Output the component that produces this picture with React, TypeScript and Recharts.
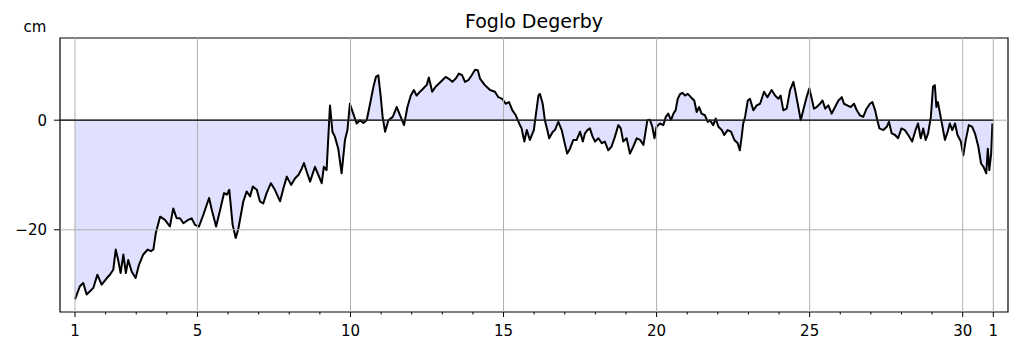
import React from "react";
import { ComposedChart, Area, XAxis, YAxis, ReferenceLine, ReferenceArea } from "recharts";

const TITLE = "Foglo Degerby";
const UNIT = "cm";

// x axis: day of month (31 = 1st of next month)
const dayTicks = Array.from({ length: 31 }, (_, i) => i + 1);
const majorDays = [1, 5, 10, 15, 20, 25, 30, 31];
const majorLabels = ["1", "5", "10", "15", "20", "25", "30", "1"];
const yTicks = [-20, 0];

const days = [
  1.0, 1.16, 1.27, 1.38, 1.49, 1.6, 1.73, 1.87, 2.04, 2.14, 2.25, 2.33, 2.41, 2.49, 2.58, 2.66, 2.74, 2.85, 2.98,
  3.09, 3.23, 3.38, 3.48, 3.56, 3.64, 3.78, 3.94, 4.1, 4.21, 4.32, 4.43, 4.54, 4.7, 4.81, 4.92, 5.05, 5.19, 5.38,
  5.47, 5.61, 5.74, 5.87, 5.96, 6.04, 6.15, 6.25, 6.33, 6.5, 6.61, 6.72, 6.81, 6.94, 7.04, 7.15, 7.26, 7.4, 7.53,
  7.7, 7.81, 7.92, 8.06, 8.19, 8.3, 8.41, 8.48, 8.57, 8.68, 8.84, 8.95, 9.06, 9.13, 9.22, 9.33, 9.41, 9.49, 9.6,
  9.71, 9.82, 9.9, 9.98, 10.09, 10.2, 10.31, 10.42, 10.53, 10.64, 10.75, 10.83, 10.91, 10.99, 11.05, 11.13, 11.24,
  11.38, 11.51, 11.62, 11.75, 11.86, 11.97, 12.07, 12.16, 12.27, 12.33, 12.43, 12.49, 12.56, 12.67, 12.78, 12.89,
  13.0, 13.11, 13.2, 13.33, 13.44, 13.54, 13.65, 13.74, 13.85, 13.96, 14.07, 14.16, 14.23, 14.39, 14.56, 14.72,
  14.83, 14.96, 15.07, 15.18, 15.29, 15.4, 15.51, 15.59, 15.68, 15.76, 15.86, 15.99, 16.06, 16.14, 16.19, 16.28,
  16.35, 16.43, 16.49, 16.61, 16.68, 16.79, 16.9, 17.01, 17.08, 17.17, 17.28, 17.39, 17.5, 17.59, 17.66, 17.74,
  17.82, 17.91, 17.99, 18.1, 18.21, 18.31, 18.42, 18.53, 18.64, 18.75, 18.83, 18.91, 19.02, 19.13, 19.24, 19.35,
  19.46, 19.57, 19.7, 19.78, 19.86, 19.93, 20.0, 20.11, 20.22, 20.3, 20.38, 20.47, 20.55, 20.62, 20.69, 20.76,
  20.84, 20.93, 21.02, 21.12, 21.23, 21.31, 21.39, 21.47, 21.58, 21.67, 21.74, 21.85, 21.93, 22.02, 22.13, 22.21,
  22.32, 22.43, 22.54, 22.65, 22.72, 22.78, 22.83, 22.89, 22.98, 23.05, 23.16, 23.27, 23.38, 23.51, 23.62, 23.76,
  23.87, 23.98, 24.05, 24.14, 24.25, 24.36, 24.47, 24.55, 24.63, 24.71, 24.79, 24.9, 24.99, 25.07, 25.14, 25.23,
  25.34, 25.42, 25.51, 25.61, 25.72, 25.83, 25.94, 26.05, 26.12, 26.23, 26.34, 26.45, 26.54, 26.64, 26.75, 26.86,
  26.97, 27.05, 27.14, 27.21, 27.28, 27.41, 27.52, 27.59, 27.68, 27.79, 27.89, 28.0, 28.11, 28.22, 28.35, 28.46,
  28.54, 28.63, 28.71, 28.79, 28.87, 28.96, 29.03, 29.09, 29.14, 29.19, 29.26, 29.33, 29.42, 29.51, 29.58, 29.66,
  29.75, 29.83, 29.94, 30.02, 30.1, 30.2, 30.31, 30.4, 30.51, 30.6, 30.68, 30.77, 30.82, 30.87, 30.93, 30.97,
];

const levels = [
  -32.7, -30.3, -29.7, -31.8, -31.2, -30.6, -28.2, -30.0, -28.8, -28.2, -27.3, -23.6, -25.5, -27.9, -24.5, -27.9,
  -25.5, -27.6, -28.8, -26.4, -24.5, -23.6, -23.9, -23.6, -20.6, -17.6, -18.2, -19.4, -16.1, -17.9, -17.9, -18.8,
  -18.2, -17.9, -19.1, -19.4, -17.3, -14.2, -16.4, -19.4, -16.4, -13.3, -13.6, -12.7, -19.1, -21.5, -20.0, -14.8,
  -13.0, -13.9, -12.1, -12.7, -14.8, -15.2, -13.3, -11.5, -12.7, -14.8, -12.4, -10.3, -11.8, -10.6, -10.0, -8.8,
  -7.8, -9.4, -11.2, -8.5, -10.0, -11.5, -8.5, -9.1, 2.7, -2.1, -3.0, -5.2, -9.7, -3.6, -1.8, 3.0, 1.2, -0.6, 0,
  -0.5, 0, 3.0, 6.1, 7.9, 8.2, 4.2, 0.6, -2.1, 0, 0.6, 2.4, 0.9, -0.9, 2.4, 4.5, 5.5, 4.5, 5.2, 5.5, 6.1, 6.4, 7.8,
  5.2, 6.1, 6.7, 7.3, 7.9, 7.6, 7.0, 7.6, 8.5, 8.2, 7.0, 7.3, 8.2, 9.2, 9.1, 7.6, 6.4, 5.5, 5.2, 4.2, 3.9, 3.0, 3.3,
  1.8, 0.9, -0.6, -1.5, -3.9, -1.8, -3.6, -1.8, 1.2, 4.5, 4.8, 3.0, 0, -1.8, -3.3, -2.1, -1.8, -0.3, -1.8, -4.5,
  -6.1, -5.2, -3.6, -3.6, -2.1, -3.9, -2.4, -1.8, -1.5, -3.0, -3.9, -3.3, -4.2, -3.9, -5.5, -4.8, -3.0, -0.9, -1.5,
  -3.9, -3.3, -6.1, -4.8, -3.3, -3.6, -4.5, 0, 0.1, -1.2, -3.3, -1.2, -0.6, -0.9, 0.6, 1.2, 0, 1.2, 1.8, 3.9, 4.7,
  5.0, 4.5, 4.8, 4.2, 3.6, 1.5, 2.4, 1.2, 0.9, -0.3, 0, -0.9, 0.3, -1.2, -1.8, -2.7, -1.8, -2.1, -3.6, -4.2, -5.5,
  -3.0, -0.6, 0.6, 3.6, 3.9, 1.8, 2.7, 3.0, 5.2, 4.2, 5.5, 4.5, 3.9, 4.5, 1.8, 2.1, 5.5, 7.0, 4.8, 2.4, 0, 1.8, 4.2,
  5.8, 3.9, 2.1, 2.4, 3.0, 3.6, 2.1, 2.7, 1.2, 2.4, 3.6, 4.2, 3.0, 2.7, 2.4, 3.0, 1.8, 0.9, 0.6, 2.1, 3.0, 3.3, 1.8,
  0, -1.5, -1.8, -1.2, -0.3, -2.4, -2.7, -3.3, -1.5, -1.8, -2.7, -3.9, -1.8, -0.6, -3.3, -1.5, -3.6, -2.4, 0.6, 6.1,
  6.4, 2.4, 3.3, 1.2, -0.9, -3.6, -2.1, -0.6, -1.8, -0.6, -2.7, -3.9, -6.4, -3.6, -0.9, -1.2, -2.4, -4.8, -7.9, -8.5,
  -9.7, -5.2, -9.1, -6.1, -0.6,
];

const data = days.map((d, i) => ({ day: d, level: levels[i] }));

const X_MIN = 0.51;
const X_MAX = 31.48;
const Y_MIN = -35;
const Y_MAX = 15;
const FONT = "DejaVu Sans, Verdana, sans-serif";

const XTick = (props: any) => {
  const { x, y, payload } = props;
  const v = payload.value;
  const idx = majorDays.indexOf(v);
  const major = idx >= 0;
  return (
    <g>
      <line x1={x} x2={x} y1={y} y2={y + (major ? 5 : 2.5)} stroke="#000" strokeWidth={1} />
      {major && (
        <text x={x} y={y + 24} textAnchor="middle" fontSize={15} fontFamily={FONT} fill="#000">
          {majorLabels[idx]}
        </text>
      )}
    </g>
  );
};

const fmtY = (v: number) => (v < 0 ? "\u2212" + Math.abs(v) : String(v));

export default function App() {
  return (
    <div style={{ position: "absolute", left: 0, top: 0, width: 1019, height: 352, background: "#fff" }}>
      <ComposedChart
        width={1019}
        height={352}
        data={data}
        margin={{ top: 38, right: 11, left: 0, bottom: 0 }}
      >
        <XAxis
          dataKey="day"
          type="number"
          domain={[X_MIN, X_MAX]}
          ticks={dayTicks}
          interval={0}
          allowDataOverflow
          axisLine={false}
          tickLine={false}
          tickSize={0}
          tickMargin={0}
          height={40}
          tick={<XTick />}
        />
        <YAxis
          type="number"
          domain={[Y_MIN, Y_MAX]}
          ticks={yTicks}
          allowDataOverflow
          axisLine={false}
          tickLine={{ stroke: "#000", strokeWidth: 1 }}
          tickSize={6}
          tickMargin={7}
          width={60}
          tickFormatter={fmtY}
          tick={{ fontSize: 15, fill: "#000", fontFamily: FONT }}
        />
        {majorDays.map((d) => (
          <ReferenceLine key={"gx" + d} x={d} stroke="#b0b0b0" strokeWidth={1} />
        ))}
        {yTicks.map((v) => (
          <ReferenceLine key={"gy" + v} y={v} stroke="#b0b0b0" strokeWidth={1} />
        ))}
        <Area
          type="linear"
          dataKey="level"
          baseValue={0}
          stroke="#000"
          strokeWidth={2}
          strokeLinejoin="round"
          fill="#0000ff"
          fillOpacity={0.12}
          dot={false}
          activeDot={false}
          isAnimationActive={false}
        />
        <ReferenceLine
          segment={[
            { x: X_MIN, y: 0 },
            { x: 31, y: 0 },
          ]}
          stroke="#000"
          strokeWidth={1.3}
        />
        <ReferenceArea
          x1={X_MIN}
          x2={X_MAX}
          y1={Y_MIN}
          y2={Y_MAX}
          fill="none"
          fillOpacity={0}
          stroke="#000"
          strokeWidth={1.2}
          ifOverflow="visible"
        />
      </ComposedChart>
      <svg
        width={1019}
        height={352}
        style={{ position: "absolute", left: 0, top: 0, pointerEvents: "none" }}
      >
        <text x={534} y={28} textAnchor="middle" fontSize={19} fontFamily={FONT} fill="#000">
          {TITLE}
        </text>
        <text x={35} y={32} textAnchor="middle" fontSize={15} fontFamily={FONT} fill="#000">
          {UNIT}
        </text>
      </svg>
    </div>
  );
}
